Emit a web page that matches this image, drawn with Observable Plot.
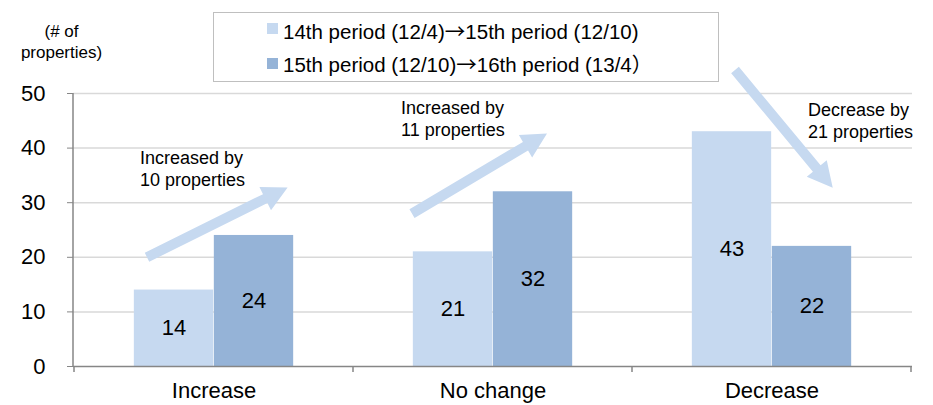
<!DOCTYPE html>
<html>
<head>
<meta charset="utf-8">
<script src="https://cdn.jsdelivr.net/npm/d3@7"></script>
<script src="https://cdn.jsdelivr.net/npm/@observablehq/plot@0.6"></script>
<style>
  html, body { margin: 0; padding: 0; background: #fff; }
  #wrap { position: relative; width: 933px; height: 405px; overflow: hidden; font-family: "Liberation Sans", Arial, sans-serif; color: #000; }
  #chart { position: absolute; left: 0; top: 0; }
  .lg-box { position: absolute; left: 213px; top: 12px; width: 506px; height: 70px; box-sizing: border-box; border: 1.5px solid #bfbfbf; background: #fff; }
  .lg-sw { position: absolute; width: 11px; height: 11px; }
  .lg-tx { position: absolute; font-size: 20.5px; line-height: 24px; white-space: nowrap; }
  .lg-tx .cjk { font-family: "Noto Sans CJK JP", "Noto Sans CJK SC", sans-serif; }
</style>
</head>
<body>
<div id="wrap">
  <div id="chart"></div>
  <div id="legend"></div>
</div>
<script>
// ---- data ----
const categories = ["Increase", "No change", "Decrease"];
const seriesNames = ["14th period (12/4)\u219215th period (12/10)", "15th period (12/10)\u219216th period (13/4\uFF09"];
const seriesColors = ["#c6d9f0", "#95b3d7"];
const values1 = [14, 21, 43];
const values2 = [24, 32, 22];
const yTicks = [0, 10, 20, 30, 40, 50];
const yLabel = "(# of\nproperties)";
const noteTexts = ["Increased by\n10 properties", "Increased by\n11 properties", "Decrease by\n21 properties"];
const noteY = [36.3, 45.5, 45.1];          // text block centre, in data units
const arrowTailY = [20, 28, 54.3];         // arrow tail, in data units

// ---- layout (styling, not data) ----
const W = 933, H = 405, mL = 73, mR = 21, mT = 93, mB = 39;
const band = (W - mL - mR) / categories.length;
const barW = 80;
const noteDx = [-74, -92, 36];
const arrowDx = [-67, -81, -37];
const arrowAngle = [63.6, 59.3, 140.3];
const arrowLen = [157, 157, 153];

const rows1 = categories.map((c, i) => ({cat: c, value: values1[i]}));
const rows2 = categories.map((c, i) => ({cat: c, value: values2[i]}));

const blockArrow = {
  draw(ctx, l) {
    const sw = 5, hw = 13, hl = 25;
    ctx.moveTo(-sw, 0);
    ctx.lineTo(-sw, -(l - hl));
    ctx.lineTo(-hw, -(l - hl));
    ctx.lineTo(0, -l);
    ctx.lineTo(hw, -(l - hl));
    ctx.lineTo(sw, -(l - hl));
    ctx.lineTo(sw, 0);
    ctx.closePath();
  }
};

function axisDecor(index, scales) {
  const x = scales.x, y = scales.y;
  const bw = x.bandwidth ? x.bandwidth() : band;
  const g = d3.create("svg:g").attr("stroke", "#868686").attr("stroke-width", 1.5);
  g.append("line").attr("x1", mL).attr("x2", mL).attr("y1", y(0)).attr("y2", y(50));
  const edges = categories.map(c => x(c)).concat([x(categories[categories.length - 1]) + bw]);
  for (const e of edges) {
    g.append("line").attr("x1", e).attr("x2", e).attr("y1", y(0)).attr("y2", y(0) + 6);
  }
  return g.node();
}

const marks = [
  Plot.ruleY(yTicks.filter(d => d > 0), {stroke: "#d9d9d9", strokeWidth: 1.5}),
  Plot.barY(rows1, {x: "cat", y: "value", fill: seriesColors[0], insetLeft: band / 2 - barW, insetRight: band / 2}),
  Plot.barY(rows2, {x: "cat", y: "value", fill: seriesColors[1], insetLeft: band / 2, insetRight: band / 2 - barW}),
  Plot.ruleY([0], {stroke: "#868686", strokeWidth: 1.5}),
  axisDecor,
  Plot.axisY(yTicks, {tickSize: 6, tickPadding: 22, stroke: "#868686", fill: "#000", fontSize: 22, label: null}),
  Plot.axisX({tickSize: 0, tickPadding: 16, fill: "#000", fontSize: 22, label: null}),
  Plot.text(rows1, {x: "cat", y: d => d.value / 2, text: d => String(d.value), dx: -barW / 2, fontSize: 22, fill: "#000"}),
  Plot.text(rows2, {x: "cat", y: d => d.value / 2, text: d => String(d.value), dx: barW / 2, fontSize: 22, fill: "#000"}),
  ...categories.map((c, i) => Plot.vector([{cat: c, y: arrowTailY[i]}], {
    x: "cat", y: "y", dx: arrowDx[i], rotate: arrowAngle[i], length: arrowLen[i],
    anchor: "start", shape: blockArrow, fill: seriesColors[0], stroke: "none"
  })),
  ...categories.map((c, i) => Plot.text([{cat: c, y: noteY[i], t: noteTexts[i]}], {
    x: "cat", y: "y", text: "t", dx: noteDx[i], textAnchor: "start", lineAnchor: "middle",
    fontSize: 18, lineHeight: 1.22, fill: "#000"
  })),
  Plot.text([yLabel], {text: d => d, frameAnchor: "top-left", dx: -12, dy: -53, textAnchor: "middle",
    lineAnchor: "middle", fontSize: 17, lineHeight: 1.24, fill: "#000"})
];

const chart = Plot.plot({
  width: W, height: H,
  marginLeft: mL, marginRight: mR, marginTop: mT, marginBottom: mB,
  x: {domain: categories, padding: 0},
  y: {domain: [0, 50]},
  style: {fontFamily: "'Liberation Sans', Arial, sans-serif", color: "#000", background: "transparent", overflow: "visible"},
  marks
});
document.getElementById("chart").append(chart);

// legend (HTML, drawn from the series arrays)
const lg = document.getElementById("legend");
const box = document.createElement("div");
box.className = "lg-box";
lg.append(box);
seriesNames.forEach((name, i) => {
  const sw = document.createElement("div");
  sw.className = "lg-sw";
  sw.style.left = "267px";
  sw.style.top = (23 + i * 35) + "px";
  sw.style.background = seriesColors[i];
  const tx = document.createElement("div");
  tx.className = "lg-tx";
  tx.style.left = "283px";
  tx.style.top = (18 + i * 33) + "px";
  // wrap the arrow / full-width bracket in a CJK font so they render full width
  name.split(/([\u2192\uFF09])/).forEach(part => {
    if (part === "\u2192" || part === "\uFF09") {
      const s = document.createElement("span");
      s.className = "cjk";
      s.textContent = part;
      tx.append(s);
    } else if (part) {
      tx.append(document.createTextNode(part));
    }
  });
  lg.append(sw, tx);
});
</script>
</body>
</html>
